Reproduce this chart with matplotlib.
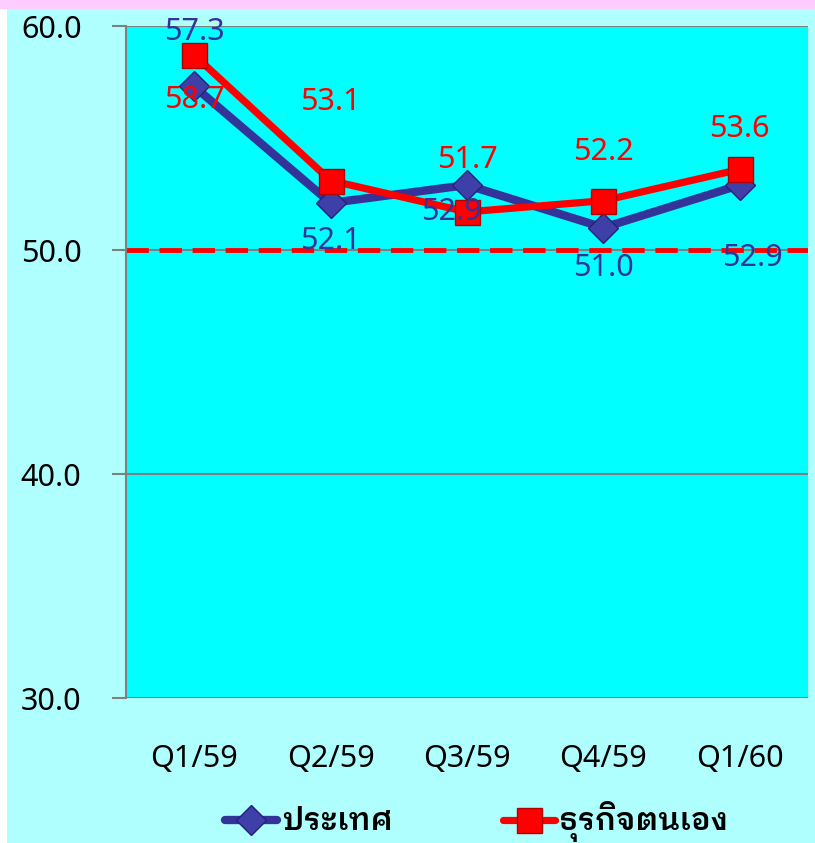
import matplotlib
matplotlib.use("Agg")
import matplotlib.pyplot as plt
from matplotlib.lines import Line2D

quarters = ["Q1/59", "Q2/59", "Q3/59", "Q4/59", "Q1/60"]
country = [57.3, 52.1, 52.9, 51.0, 52.9]
business = [58.7, 53.1, 51.7, 52.2, 53.6]
series_names = ["ประเทศ", "ธุรกิจตนเอง"]
y_ticks = [30.0, 40.0, 50.0, 60.0]
threshold = 50.0

country_off = [(0, 54), (0, -38), (-16, -27), (0, -40), (13, -73)]
business_off = [(0, -45), (0, 79), (0, 52), (0, 49), (0, 40)]

plt.rcParams["font.family"] = ["Noto Sans Thai Looped", "DejaVu Sans"]

BLUE = "#333399"
RED = "#FF0000"

fig = plt.figure(figsize=(8.15, 8.43), dpi=100, facecolor="#AFFFFF")
ax = fig.add_axes([126 / 815, 1 - 698 / 843, 682 / 815, 672 / 843])
ax.set_facecolor("#00FFFF")

# pink strip on top, white strip on the left
fig.patches.append(plt.Rectangle((0, 1 - 9 / 843), 1, 9 / 843, transform=fig.transFigure,
                                 facecolor="#FFCCFF", edgecolor="none"))
fig.patches.append(plt.Rectangle((0, 0), 7 / 815, 1 - 9 / 843, transform=fig.transFigure,
                                 facecolor="white", edgecolor="none"))

x = list(range(len(quarters)))
ax.set_xlim(-0.5, len(quarters) - 0.5)
ax.set_ylim(30, 60)

for v in y_ticks:
    ax.axhline(v, color="#808080", lw=1.5, zorder=1)
ax.axhline(threshold, color=RED, lw=3.5, ls=(0, (4.6, 2.2)), zorder=2)

ax.plot(x, country, color=BLUE, lw=6, marker="D", ms=15, mfc="#3F3FA8", mec="#22227A",
        mew=1, zorder=4, solid_capstyle="round")
ax.plot(x, business, color=RED, lw=5.2, marker="s", ms=18, mfc=RED, mec="#B00000",
        mew=1, zorder=5)

for xi, v, (dx, dy) in zip(x, country, country_off):
    ax.annotate(f"{v:.1f}", (xi, v), xytext=(dx * 0.72, dy * 0.72), textcoords="offset points",
                ha="center", va="center", fontsize=22, color=BLUE, zorder=6)
for xi, v, (dx, dy) in zip(x, business, business_off):
    ax.annotate(f"{v:.1f}", (xi, v), xytext=(dx * 0.72, dy * 0.72), textcoords="offset points",
                ha="center", va="center", fontsize=22, color=RED, zorder=6)

ax.set_yticks(y_ticks)
ax.set_yticklabels([f"{v:.1f}" for v in y_ticks], fontsize=22)
ax.set_xticks(x)
ax.set_xticklabels(quarters, fontsize=22)
ax.tick_params(axis="y", length=10, width=1.5, color="#808080", pad=22)
ax.tick_params(axis="x", length=0, pad=33)
for s in ["top", "right", "bottom"]:
    ax.spines[s].set_visible(False)
ax.spines["left"].set_color("#808080")
ax.spines["left"].set_linewidth(1.5)

handles = [
    Line2D([], [], color=BLUE, lw=6, marker="D", ms=15, mfc="#3F3FA8", mec="#22227A",
           solid_capstyle="round"),
    Line2D([], [], color=RED, lw=5.2, marker="s", ms=18, mfc=RED, mec="#B00000",
           solid_capstyle="round"),
]
fig.legend(handles, series_names, loc="center", bbox_to_anchor=(0.585, 1 - 822 / 843),
           ncol=2, frameon=False, handlelength=1.7, columnspacing=3.6,
           handletextpad=0.15,
           prop={"family": ["IBM Plex Sans Thai Looped", "DejaVu Sans"],
                 "weight": "semibold", "size": 22})

fig.savefig("out.png", dpi=100, facecolor=fig.get_facecolor())
